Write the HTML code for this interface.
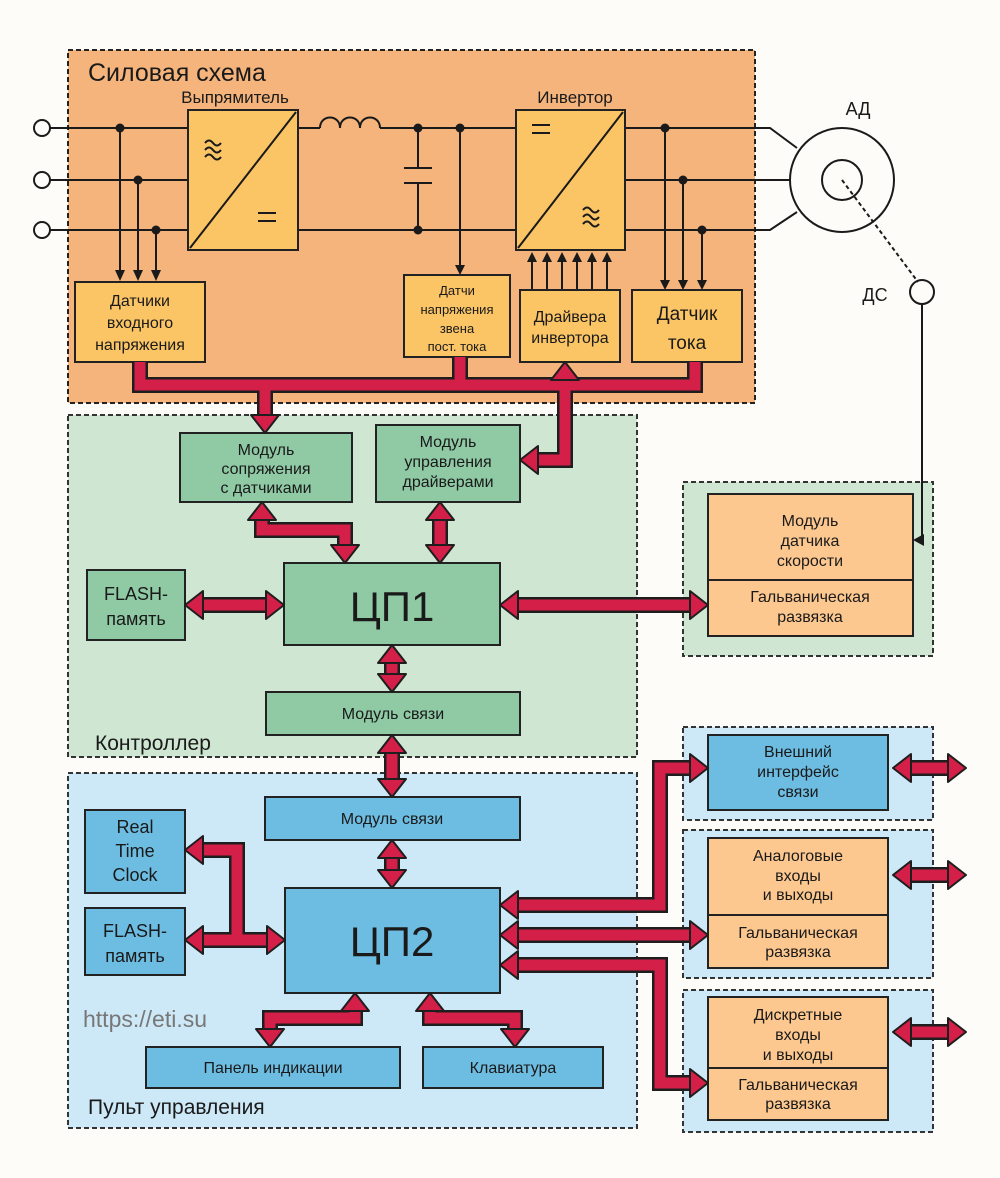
<!DOCTYPE html>
<html><head><meta charset="utf-8"><style>
html,body{margin:0;padding:0;background:#fdfcf8}
svg{display:block}
text{font-family:"Liberation Sans",sans-serif;fill:#1a1a1a}
</style></head><body>
<svg width="1000" height="1178" viewBox="0 0 1000 1178" xmlns="http://www.w3.org/2000/svg">
<defs>
<g id="hd"><polygon points="-14,-18 14,-18 0,0" fill="#d41f48" stroke="#1e1e1e" stroke-width="2" stroke-linejoin="round"/></g>
</defs>
<rect x="68" y="50" width="687" height="353" fill="#f5b47c" stroke="#222" stroke-width="2" stroke-dasharray="5,3"/>
<rect x="68" y="415" width="569" height="342" fill="#cfe6d2" stroke="#333" stroke-width="2" stroke-dasharray="5,3"/>
<rect x="683" y="482" width="250" height="174" fill="#cfe6d2" stroke="#333" stroke-width="2" stroke-dasharray="5,3"/>
<rect x="68" y="773" width="569" height="355" fill="#cde8f6" stroke="#333" stroke-width="2" stroke-dasharray="5,3"/>
<rect x="683" y="727" width="250" height="93" fill="#cde8f6" stroke="#333" stroke-width="2" stroke-dasharray="5,3"/>
<rect x="683" y="830" width="250" height="148" fill="#cde8f6" stroke="#333" stroke-width="2" stroke-dasharray="5,3"/>
<rect x="683" y="990" width="250" height="142" fill="#cde8f6" stroke="#333" stroke-width="2" stroke-dasharray="5,3"/>

<text x="88" y="81" font-size="25">Силовая схема</text>
<text x="235" y="103" font-size="17" text-anchor="middle">Выпрямитель</text>
<text x="575" y="103" font-size="17" text-anchor="middle">Инвертор</text>
<text x="858" y="115" font-size="18" text-anchor="middle">АД</text>
<text x="875" y="301" font-size="18" text-anchor="middle">ДС</text>

<g stroke="#1a1a1a" stroke-width="2" fill="none">
<path d="M50,128H188M50,180H188M50,230H188"/>
<path d="M298,128H320M380,128H516M298,230H516"/>
<path d="M320,128c0,-14 20,-14 20,0c0,-14 20,-14 20,0c0,-14 20,-14 20,0"/>
<path d="M418,128V168M418,183V230M404,168H432M404,183H432"/>
<path d="M625,128H770L797,148M625,180H790M625,230H770L797,212"/>
<circle cx="842" cy="180" r="52" fill="#fdfcf8"/>
<circle cx="842" cy="180" r="20"/>
<path d="M842,180L918,282" stroke-dasharray="4,3"/>
<circle cx="922" cy="292" r="12"/>
<path d="M922,304V540H920"/>
<path d="M120,128V270M138,180V270M156,230V270M460,128V265M665,128V280M683,180V280M702,230V280"/>
<path d="M532,290V260M547,290V260M562,290V260M577,290V260M592,290V260M607,290V260"/>
</g>
<g fill="#1a1a1a">
<circle cx="120" cy="128" r="4.5"/><circle cx="138" cy="180" r="4.5"/><circle cx="156" cy="230" r="4.5"/>
<circle cx="418" cy="128" r="4.5"/><circle cx="418" cy="230" r="4.5"/><circle cx="460" cy="128" r="4.5"/>
<circle cx="665" cy="128" r="4.5"/><circle cx="683" cy="180" r="4.5"/><circle cx="702" cy="230" r="4.5"/>
<path d="M115,270h10l-5,11zM133,270h10l-5,11zM151,270h10l-5,11zM455,265h10l-5,10zM660,280h10l-5,10zM678,280h10l-5,10zM697,280h10l-5,10z"/>
<path d="M527,262h10l-5,-10zM542,262h10l-5,-10zM557,262h10l-5,-10zM572,262h10l-5,-10zM587,262h10l-5,-10zM602,262h10l-5,-10z"/>
</g>
<g fill="#fdfcf8" stroke="#1a1a1a" stroke-width="2">
<circle cx="42" cy="128" r="8"/><circle cx="42" cy="180" r="8"/><circle cx="42" cy="230" r="8"/>
</g>
<g stroke="#222" stroke-width="2">
<rect x="188" y="110" width="110" height="140" fill="#fbc566"/>
<rect x="516" y="110" width="109" height="140" fill="#fbc566"/>
</g>
<g stroke="#1a1a1a" stroke-width="2" fill="none">
<path d="M190,248L296,112M518,248L623,112"/>
<path d="M258,213h18M258,221h18M532,125h18M532,133h18"/>
<path d="M205,143q4,-5 8,0t8,0M205,150q4,-5 8,0t8,0M205,157q4,-5 8,0t8,0"/>
<path d="M583,210q4,-5 8,0t8,0M583,217q4,-5 8,0t8,0M583,224q4,-5 8,0t8,0"/>
</g>
<g stroke="#222" stroke-width="2" fill="#fbc566">
<rect x="75" y="282" width="130" height="80"/>
<rect x="404" y="275" width="106" height="82"/>
<rect x="520" y="290" width="100" height="72"/>
<rect x="632" y="290" width="110" height="72"/>
</g>
<g font-size="16" text-anchor="middle">
<text x="140" y="306">Датчики</text><text x="140" y="328">входного</text><text x="140" y="350">напряжения</text>
<text x="457" y="295" font-size="13">Датчи</text><text x="457" y="314" font-size="13">напряжения</text><text x="457" y="333" font-size="13">звена</text><text x="457" y="351" font-size="13">пост. тока</text>
<text x="570" y="322" font-size="16">Драйвера</text><text x="570" y="343" font-size="16">инвертора</text>
<text x="687" y="320" font-size="19">Датчик</text><text x="687" y="349" font-size="19">тока</text>
</g>

<g stroke="#222" stroke-width="2">
<rect x="180" y="433" width="172" height="69" fill="#8fcaa5"/>
<rect x="376" y="425" width="144" height="77" fill="#8fcaa5"/>
<rect x="284" y="563" width="216" height="82" fill="#8fcaa5"/>
<rect x="87" y="570" width="98" height="70" fill="#8fcaa5"/>
<rect x="266" y="692" width="254" height="43" fill="#8fcaa5"/>
<rect x="708" y="494" width="205" height="142" fill="#fcc88f"/>
<path d="M708,580H913"/>
<rect x="265" y="797" width="255" height="43" fill="#6dbde2"/>
<rect x="85" y="810" width="100" height="83" fill="#6dbde2"/>
<rect x="85" y="908" width="100" height="67" fill="#6dbde2"/>
<rect x="285" y="888" width="215" height="105" fill="#6dbde2"/>
<rect x="146" y="1047" width="254" height="41" fill="#6dbde2"/>
<rect x="423" y="1047" width="180" height="41" fill="#6dbde2"/>
<rect x="708" y="735" width="180" height="75" fill="#6dbde2"/>
<rect x="708" y="838" width="180" height="130" fill="#fcc88f"/>
<path d="M708,915H888"/>
<rect x="708" y="997" width="180" height="123" fill="#fcc88f"/>
<path d="M708,1068H888"/>
</g>
<path d="M913,540l11,-6v12z" fill="#1a1a1a"/>
<g font-size="16" text-anchor="middle">
<text x="266" y="455">Модуль</text><text x="266" y="474">сопряжения</text><text x="266" y="493">с датчиками</text>
<text x="448" y="447">Модуль</text><text x="448" y="467">управления</text><text x="448" y="487">драйверами</text>
<text x="392" y="621" font-size="42">ЦП1</text>
<text x="136" y="600" font-size="18">FLASH-</text><text x="136" y="625" font-size="18">память</text>
<text x="393" y="719">Модуль связи</text>
<text x="810" y="526">Модуль</text><text x="810" y="546">датчика</text><text x="810" y="566">скорости</text>
<text x="810" y="602">Гальваническая</text><text x="810" y="622">развязка</text>
<text x="392" y="824">Модуль связи</text>
<text x="135" y="833" font-size="18">Real</text><text x="135" y="857" font-size="18">Time</text><text x="135" y="881" font-size="18">Clock</text>
<text x="135" y="937" font-size="18">FLASH-</text><text x="135" y="962" font-size="18">память</text>
<text x="392" y="956" font-size="42">ЦП2</text>
<text x="273" y="1073">Панель индикации</text>
<text x="513" y="1073">Клавиатура</text>
<text x="798" y="757">Внешний</text><text x="798" y="777">интерфейс</text><text x="798" y="797">связи</text>
<text x="798" y="861">Аналоговые</text><text x="798" y="881">входы</text><text x="798" y="900">и выходы</text>
<text x="798" y="938">Гальваническая</text><text x="798" y="957">развязка</text>
<text x="798" y="1020">Дискретные</text><text x="798" y="1040">входы</text><text x="798" y="1060">и выходы</text>
<text x="798" y="1090">Гальваническая</text><text x="798" y="1109">развязка</text>
</g>
<text x="95" y="750" font-size="21">Контроллер</text>
<text x="88" y="1114" font-size="21">Пульт управления</text>
<text x="83" y="1027" font-size="23" style="fill:#777">https://eti.su</text>

<g fill="none" stroke-linejoin="miter">
<g stroke="#1e1e1e" stroke-width="16">
<path d="M140,362V385H695V362M460,357V385M265,385V418"/>
<path d="M565,378V460H536"/>
<path d="M262,518V530H345V548"/>
<path d="M440,518V548M201,605H268M516,605H692M392,661V676M392,751V781M392,856V872"/>
<path d="M201,850H237V940H201M237,940H269"/>
<path d="M355,1009V1018H270V1031M430,1009V1018H515V1031"/>
<path d="M516,905H660V768H692M516,935H692M516,965H660V1083H692"/>
<path d="M909,768H950M909,875H950M909,1032H950"/>
</g>
<g stroke="#d41f48" stroke-width="11">
<path d="M140,362V385H695V362M460,357V385M265,385V420"/>
<path d="M565,376V460H534"/>
<path d="M262,516V530H345V550"/>
<path d="M440,516V550M199,605H270M514,605H694M392,659V678M392,749V783M392,854V874"/>
<path d="M199,850H237V940H199M237,940H271"/>
<path d="M355,1007V1018H270V1033M430,1007V1018H515V1033"/>
<path d="M514,905H660V768H694M514,935H694M514,965H660V1083H694"/>
<path d="M907,768H952M907,875H952M907,1032H952"/>
</g>
</g>
<use href="#hd" transform="translate(265,433)"/>
<use href="#hd" transform="translate(565,362) rotate(180)"/>
<use href="#hd" transform="translate(520,460) rotate(90)"/>
<use href="#hd" transform="translate(262,502) rotate(180)"/>
<use href="#hd" transform="translate(345,563)"/>
<use href="#hd" transform="translate(440,502) rotate(180)"/>
<use href="#hd" transform="translate(440,563)"/>
<use href="#hd" transform="translate(185,605) rotate(90)"/>
<use href="#hd" transform="translate(284,605) rotate(-90)"/>
<use href="#hd" transform="translate(500,605) rotate(90)"/>
<use href="#hd" transform="translate(708,605) rotate(-90)"/>
<use href="#hd" transform="translate(392,645) rotate(180)"/>
<use href="#hd" transform="translate(392,692)"/>
<use href="#hd" transform="translate(392,735) rotate(180)"/>
<use href="#hd" transform="translate(392,797)"/>
<use href="#hd" transform="translate(392,840) rotate(180)"/>
<use href="#hd" transform="translate(392,888)"/>
<use href="#hd" transform="translate(185,850) rotate(90)"/>
<use href="#hd" transform="translate(185,940) rotate(90)"/>
<use href="#hd" transform="translate(285,940) rotate(-90)"/>
<use href="#hd" transform="translate(355,993) rotate(180)"/>
<use href="#hd" transform="translate(270,1047)"/>
<use href="#hd" transform="translate(430,993) rotate(180)"/>
<use href="#hd" transform="translate(515,1047)"/>
<use href="#hd" transform="translate(500,905) rotate(90)"/>
<use href="#hd" transform="translate(500,935) rotate(90)"/>
<use href="#hd" transform="translate(500,965) rotate(90)"/>
<use href="#hd" transform="translate(708,768) rotate(-90)"/>
<use href="#hd" transform="translate(708,935) rotate(-90)"/>
<use href="#hd" transform="translate(708,1083) rotate(-90)"/>
<use href="#hd" transform="translate(893,768) rotate(90)"/>
<use href="#hd" transform="translate(966,768) rotate(-90)"/>
<use href="#hd" transform="translate(893,875) rotate(90)"/>
<use href="#hd" transform="translate(966,875) rotate(-90)"/>
<use href="#hd" transform="translate(893,1032) rotate(90)"/>
<use href="#hd" transform="translate(966,1032) rotate(-90)"/>
</svg>
</body></html>
